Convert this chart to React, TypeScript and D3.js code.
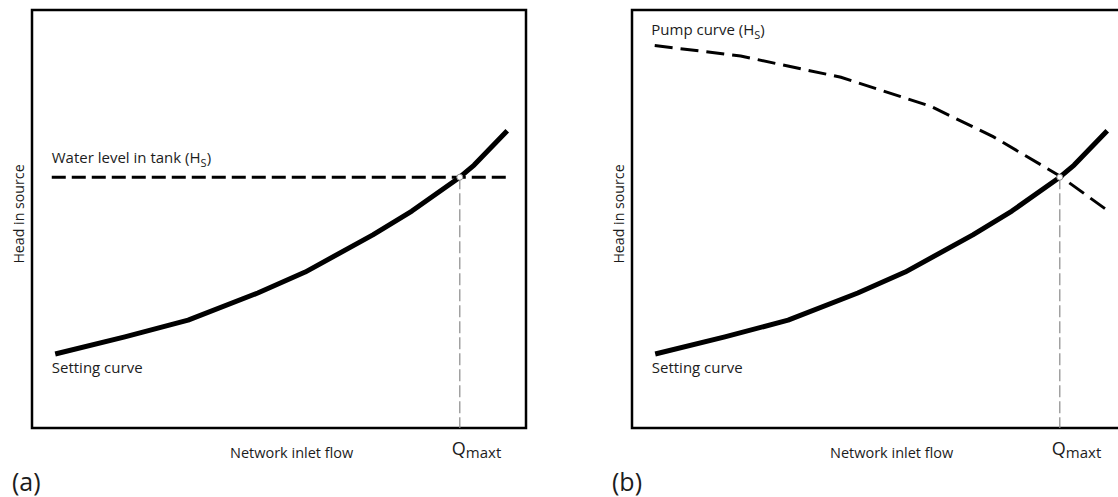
import * as d3 from "d3";

// flow / head, in percent of the frame
const settingFlow = [4.7, 18.8, 31.6, 45.7, 55.3, 69.0, 76.9, 86.6, 89.5, 96.2];
const settingHead = [17.7, 21.8, 25.8, 32.3, 37.3, 46.2, 51.9, 60.0, 62.9, 71.1];

const pumpFlow = [4.6, 22.0, 42.3, 60.4, 73.1, 86.6, 96.3];
const pumpHead = [91.5, 89.0, 83.9, 77.0, 69.7, 60.3, 52.0];

const tankFlow = [4.0, 96.2];
const tankLevel = 60.0;
const qMaxt = 86.6;

const panelLabels = ["(a)", "(b)"];

const font = "'Open Sans', sans-serif";
const ink = "#1c1c1c";

interface PanelProperties {
    offset: number;
    label: string;
    pump: boolean;
}

function Panel({ offset, label, pump }: PanelProperties) {
    const frame = { left: 32, right: 526, top: 10, bottom: 428 };

    const x = d3.scaleLinear().domain([0, 100]).range([frame.left, frame.right]);
    const y = d3.scaleLinear().domain([0, 100]).range([frame.bottom, frame.top]);

    const line = d3.line<[number, number]>().x((d) => x(d[0])).y((d) => y(d[1]));

    const setting = settingFlow.map((f, i) => [f, settingHead[i]] as [number, number]);
    const pumpCurve = pumpFlow.map((f, i) => [f, pumpHead[i]] as [number, number]);
    const tank = tankFlow.map((f) => [f, tankLevel] as [number, number]);

    const qIndex = settingFlow.indexOf(qMaxt);
    const qHead = settingHead[qIndex];

    return (
        <g transform={`translate(${offset},0)`} fontFamily={font} fill={ink}>
            <rect x={frame.left} y={frame.top} width={frame.right - frame.left} height={frame.bottom - frame.top}
                fill="none" stroke="black" strokeWidth={2.5} />

            {/* Qmaxt drop line */}
            <line x1={x(qMaxt)} x2={x(qMaxt)} y1={y(qHead)} y2={frame.bottom} stroke="#8a8a8a" strokeWidth={1.2} strokeDasharray="12 4" />

            {pump ? (
                <path d={line(pumpCurve)!} fill="none" stroke="black" strokeWidth={3} strokeDasharray="18 8" />
            ) : (
                <path d={line(tank)!} fill="none" stroke="black" strokeWidth={3} strokeDasharray="14 6" />
            )}

            <path d={line(setting)!} fill="none" stroke="black" strokeWidth={5} strokeLinejoin="round" />

            <circle cx={x(qMaxt)} cy={y(qHead)} r={3} fill="white" stroke="#8a8a8a" strokeWidth={1} />

            {pump ? (
                <text x={x(3.9)} y={35} fontSize={15}>Pump curve (H<tspan fontSize={11} dy={4}>S</tspan><tspan dy={-4}>)</tspan></text>
            ) : (
                <text x={x(4.0)} y={163} fontSize={15}>Water level in tank (H<tspan fontSize={11} dy={4}>S</tspan><tspan dy={-4}>)</tspan></text>
            )}
            <text x={x(4.0)} y={373} fontSize={15}>Setting curve</text>

            <text transform={`translate(24,214) rotate(-90)`} textAnchor="middle" fontSize={14.2}>Head in source</text>
            <text x={230} y={458} fontSize={14.5}>Network inlet flow</text>
            <text x={x(qMaxt) - 8} y={455} fontSize={18}>Q<tspan fontSize={15} dy={3}>maxt</tspan></text>

            <text x={12} y={491} fontSize={25}>{label}</text>
        </g>
    );
}

export default function App() {
    return (
        <svg width={1118} height={497} style={{ position: "absolute", left: 0, top: 0, background: "#ffffff" }}>
            {panelLabels.map((label, i) => (
                <Panel key={label} offset={i * 600} label={label} pump={i === 1} />
            ))}
        </svg>
    );
}
